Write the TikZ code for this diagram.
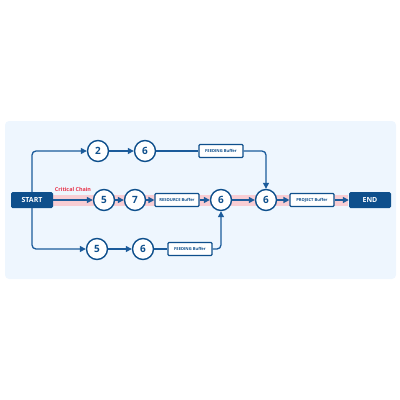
\documentclass[tikz,border=0pt]{standalone}
\usepackage{fontspec}
\setmainfont{Open Sans}
\usetikzlibrary{arrows.meta}
\definecolor{panelbg}{HTML}{EEF6FE}
\definecolor{navy}{HTML}{0E4F8C}
\definecolor{linec}{HTML}{1B5B9B}
\definecolor{pinkband}{HTML}{F8CDD3}
\definecolor{critred}{HTML}{E8334A}
\tikzset{
  endbox/.style={draw=none,fill=navy,text=white,font=\bfseries\fontsize{7}{8}\selectfont,minimum width=42pt,minimum height=16pt,inner sep=0pt,rounded corners=1.5pt},
  numc/.style={circle,draw=navy,line width=1.4pt,fill=white,minimum size=21pt,inner sep=0pt,text=navy,font=\bfseries\fontsize{10}{11}\selectfont},
  bufbox/.style={draw=navy,line width=1.1pt,fill=white,minimum width=44pt,minimum height=13pt,inner sep=0pt,text=navy,font=\bfseries\fontsize{4.1}{5}\selectfont,rounded corners=1pt},
  conn/.style={draw=linec,line width=1.3pt},
  arr/.style={conn,-{Triangle[length=6pt,width=6pt]}},
}
\begin{document}
\begin{tikzpicture}[x=1pt,y=-1pt]
\useasboundingbox (0,0) rectangle (400,400);
\fill[panelbg,rounded corners=4pt] (5,121) rectangle (396,279);
\fill[pinkband] (53,195) rectangle (348,206);
\node[endbox] (start) at (32,200) {START};
\node[endbox] (end) at (370,200) {END};
\node[text=critred,font=\bfseries\fontsize{5.4}{6}\selectfont,anchor=south] (cc) at (73,195.5) {Critical Chain};
% top row
\node[numc] (t2) at (98,151) {2};
\node[numc] (t6) at (145,151) {6};
\node[bufbox] (tf) at (221,151) {FEEDING Buffer};
% middle row
\node[numc] (m5) at (104,200) {5};
\node[numc] (m7) at (135,200) {7};
\node[bufbox] (rb) at (177,200) {RESOURCE Buffer};
\node[numc] (m6a) at (221,200) {6};
\node[numc] (m6b) at (266,200) {6};
\node[bufbox] (pb) at (312,200) {PROJECT Buffer};
% bottom row
\node[numc] (b5) at (97,249) {5};
\node[numc] (b6) at (143,249) {6};
\node[bufbox] (bf) at (190,249) {FEEDING Buffer};
% connectors
\draw[arr,rounded corners=4pt] (start.north) |- (t2.west);
\draw[arr,rounded corners=4pt] (start.south) |- (b5.west);
\draw[arr] (t2) -- (t6);
\draw[conn] (t6) -- (tf);
\draw[arr,rounded corners=4pt] (tf.east) -| (m6b.north);
\draw[arr] (b5) -- (b6);
\draw[conn] (b6) -- (bf);
\draw[arr,rounded corners=4pt] (bf.east) -| (m6a.south);
\draw[arr] (start) -- (m5);
\draw[arr] (m5) -- (m7);
\draw[arr] (m7) -- (rb);
\draw[arr] (rb) -- (m6a);
\draw[arr] (m6a) -- (m6b);
\draw[arr] (m6b) -- (pb);
\draw[arr] (pb) -- (end);
\end{tikzpicture}
\end{document}
